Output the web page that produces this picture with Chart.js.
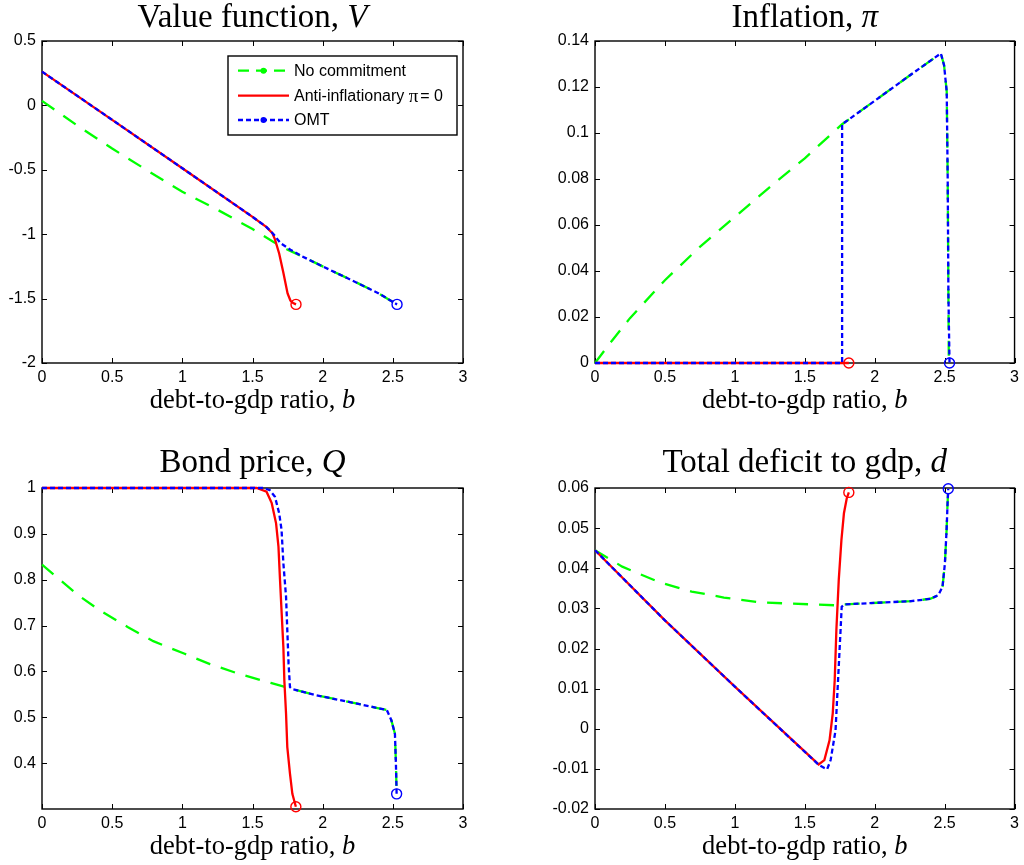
<!DOCTYPE html>
<html><head><meta charset="utf-8">
<script src="https://cdn.jsdelivr.net/npm/chart.js@4.4.0/dist/chart.umd.min.js"></script>
<style>
html,body{margin:0;padding:0;background:#fff;width:1024px;height:865px;overflow:hidden}
canvas{position:absolute}
</style></head><body>
<canvas id="cV" width="512" height="430" style="left:0;top:0"></canvas>
<canvas id="cPi" width="512" height="430" style="left:512px;top:0"></canvas>
<canvas id="cQ" width="512" height="435" style="left:0;top:430px"></canvas>
<canvas id="cD" width="512" height="435" style="left:512px;top:430px"></canvas>
<script>
// ---------- tick labels ----------
const xTicks = [0, 0.5, 1, 1.5, 2, 2.5, 3];
const vTicks = [-2, -1.5, -1, -0.5, 0, 0.5];
const piTicks = [0, 0.02, 0.04, 0.06, 0.08, 0.1, 0.12, 0.14];
const qTicks = [0.4, 0.5, 0.6, 0.7, 0.8, 0.9, 1];
const dTicks = [-0.02, -0.01, 0, 0.01, 0.02, 0.03, 0.04, 0.05, 0.06];
const seriesNames = ['No commitment', 'Anti-inflationary ', 'OMT'];

// ---------- Value function V ----------
const vNcB  = [0, 0.25, 0.5, 0.75, 1.0, 1.25, 1.5, 1.65, 1.75, 1.85, 2.0, 2.25, 2.4, 2.53];
const vNcY  = [0.035, -0.155, -0.335, -0.505, -0.67, -0.81, -0.96, -1.06, -1.12, -1.17, -1.25, -1.38, -1.46, -1.545];
const vAiB  = [0, 0.5, 1.0, 1.5, 1.6, 1.64, 1.66, 1.69, 1.72, 1.75, 1.77, 1.79, 1.81];
const vAiY  = [0.262, -0.112, -0.488, -0.865, -0.945, -0.99, -1.04, -1.15, -1.30, -1.46, -1.515, -1.535, -1.545];
const vOmB  = [0, 0.5, 1.0, 1.5, 1.6, 1.65, 1.7, 1.77, 1.85, 2.0, 2.25, 2.4, 2.53];
const vOmY  = [0.262, -0.112, -0.488, -0.865, -0.945, -1.0, -1.07, -1.12, -1.17, -1.25, -1.38, -1.46, -1.545];

// ---------- Inflation pi ----------
const piNcB = [0, 0.12, 0.25, 0.5, 0.75, 1.0, 1.25, 1.5, 1.767, 2.0, 2.25, 2.473, 2.496, 2.515, 2.522, 2.527, 2.53];
const piNcY = [0, 0.0096, 0.0195, 0.036, 0.0505, 0.0635, 0.0765, 0.089, 0.1038, 0.114, 0.125, 0.1346, 0.1295, 0.118, 0.08, 0.03, 0];
const piAiB = [0, 1.815];
const piAiY = [0, 0];
const piOmB = [0, 1.767, 1.767, 2.0, 2.25, 2.473, 2.496, 2.515, 2.522, 2.527, 2.535];
const piOmY = [0, 0, 0.1038, 0.114, 0.125, 0.1346, 0.1295, 0.118, 0.08, 0.03, 0];

// ---------- Bond price Q ----------
const qNcB = [0, 0.259, 0.413, 0.61, 0.793, 1.012, 1.197, 1.411, 1.63, 1.78, 1.957, 2.195, 2.409, 2.457, 2.49, 2.515, 2.522, 2.527];
const qNcY = [0.833, 0.766, 0.733, 0.697, 0.666, 0.639, 0.616, 0.594, 0.575, 0.562, 0.548, 0.533, 0.519, 0.516, 0.493, 0.464, 0.399, 0.333];
const qAiB = [0, 1.53, 1.60, 1.637, 1.668, 1.685, 1.696, 1.708, 1.72, 1.727, 1.739, 1.748, 1.767, 1.784, 1.809];
const qAiY = [1, 1, 0.992, 0.967, 0.923, 0.872, 0.80, 0.726, 0.653, 0.58, 0.508, 0.435, 0.377, 0.333, 0.305];
const qOmB = [0, 1.58, 1.624, 1.66, 1.69, 1.707, 1.72, 1.739, 1.748, 1.757, 1.767, 1.78, 1.957, 2.195, 2.409, 2.457, 2.49, 2.515, 2.522, 2.527];
const qOmY = [1, 1, 0.995, 0.981, 0.945, 0.909, 0.836, 0.763, 0.69, 0.617, 0.566, 0.562, 0.548, 0.533, 0.519, 0.516, 0.493, 0.464, 0.399, 0.333];

// ---------- Total deficit d ----------
const dNcB = [0, 0.195, 0.461, 0.691, 0.922, 1.178, 1.546, 1.77, 1.784, 2.02, 2.26, 2.40, 2.455, 2.485, 2.502, 2.514, 2.521, 2.526];
const dNcY = [0.0445, 0.0404, 0.0365, 0.0342, 0.0327, 0.0315, 0.031, 0.0307, 0.031, 0.0314, 0.0318, 0.0324, 0.0333, 0.0354, 0.0412, 0.0495, 0.0562, 0.0598];
const dAiB = [0, 0.5, 1.0, 1.599, 1.64, 1.677, 1.70, 1.714, 1.726, 1.743, 1.762, 1.78, 1.80, 1.815];
const dAiY = [0.0445, 0.027, 0.0105, -0.0089, -0.0078, -0.0029, 0.0038, 0.0121, 0.0246, 0.0371, 0.047, 0.0537, 0.0574, 0.0589];
const dOmB = [0, 0.5, 1.0, 1.6, 1.64, 1.66, 1.685, 1.72, 1.732, 1.744, 1.756, 1.764, 1.784, 2.02, 2.26, 2.40, 2.455, 2.485, 2.502, 2.514, 2.521, 2.526];
const dOmY = [0.0445, 0.027, 0.0105, -0.009, -0.0098, -0.0101, -0.0078, -0.0004, 0.008, 0.0163, 0.0246, 0.0304, 0.031, 0.0314, 0.0318, 0.0324, 0.0333, 0.0354, 0.0412, 0.0495, 0.0562, 0.0598];

// ---------- styling ----------
const GREEN = '#00ff00', RED = '#ff0000', BLUE = '#0000ff';
const SERIF = '"Liberation Serif", "Times New Roman", serif';
const SANS = '"Liberation Sans", Arial, sans-serif';
const TICK_FONT = {family: SANS, size: 16};

function pts(b, y) { return b.map((x, i) => ({x: x, y: y[i]})); }
function fmt(v) { return String(Math.round(v * 1e6) / 1e6); }

function datasets(nB, nY, aB, aY, oB, oY) {
  const endRadius = c => (c.dataIndex === c.dataset.data.length - 1 ? 5 : 0);
  return [
    {label: seriesNames[0], data: pts(nB, nY), borderColor: GREEN, borderWidth: 2.3, borderDash: [15, 11],
     pointRadius: 0, order: 3, clip: false},
    {label: seriesNames[1], data: pts(aB, aY), borderColor: RED, borderWidth: 2.3,
     pointRadius: endRadius, pointBorderColor: RED, pointBackgroundColor: 'rgba(0,0,0,0)', pointBorderWidth: 1.4, order: 2, clip: false},
    {label: seriesNames[2], data: pts(oB, oY), borderColor: BLUE, borderWidth: 2.3, borderDash: [5, 3],
     pointRadius: endRadius, pointBorderColor: BLUE, pointBackgroundColor: 'rgba(0,0,0,0)', pointBorderWidth: 1.4, order: 1, clip: false}
  ];
}

function drawParts(ctx, parts, cx, baseline) {
  let total = 0;
  parts.forEach(p => { ctx.font = p.f; total += ctx.measureText(p.t).width; });
  let x = cx - total / 2;
  ctx.textBaseline = 'alphabetic';
  ctx.textAlign = 'left';
  ctx.fillStyle = '#000';
  parts.forEach(p => { ctx.font = p.f; ctx.fillText(p.t, x, baseline); x += ctx.measureText(p.t).width; });
}

const decor = {
  id: 'decor',
  beforeDatasetsDraw(chart) {
    const ctx = chart.ctx, a = chart.chartArea;
    ctx.save();
    ctx.strokeStyle = '#000';
    ctx.lineWidth = 1.4;
    ctx.setLineDash([]);
    ctx.strokeRect(a.left, a.top, a.right - a.left, a.bottom - a.top);
    ctx.lineWidth = 1;
    const L = 5;
    const xs = chart.scales.x, ys = chart.scales.y;
    ctx.beginPath();
    xs.ticks.forEach(t => {
      const p = Math.round(xs.getPixelForValue(t.value)) + 0.5;
      ctx.moveTo(p, a.bottom); ctx.lineTo(p, a.bottom - L);
      ctx.moveTo(p, a.top); ctx.lineTo(p, a.top + L);
    });
    ys.ticks.forEach(t => {
      const p = Math.round(ys.getPixelForValue(t.value)) + 0.5;
      ctx.moveTo(a.left, p); ctx.lineTo(a.left + L, p);
      ctx.moveTo(a.right, p); ctx.lineTo(a.right - L, p);
    });
    ctx.stroke();
    ctx.restore();
  },
  afterDraw(chart) {
    const o = chart.options.plugins.decor;
    const ctx = chart.ctx, a = chart.chartArea;
    const cx = (a.left + a.right) / 2;
    ctx.save();
    drawParts(ctx, o.title, cx, a.top + o.titleOffset);
    drawParts(ctx, [
      {t: 'debt-to-gdp ratio, ', f: '26.5px ' + SERIF},
      {t: 'b', f: 'italic 26.5px ' + SERIF}
    ], cx, a.bottom + 44.5);
    if (o.legend) {
      const w = 229, h = 79;
      const bx = a.right - 6 - w, by = a.top + 15;
      ctx.fillStyle = '#fff';
      ctx.fillRect(bx, by, w, h);
      ctx.strokeStyle = '#000';
      ctx.lineWidth = 1.4;
      ctx.strokeRect(bx, by, w, h);
      const rows = [14.7, 39.7, 64];
      chart.data.datasets.forEach((ds, i) => {
        const y = by + rows[i];
        ctx.strokeStyle = ds.borderColor;
        ctx.lineWidth = 2.3;
        ctx.setLineDash(i === 0 ? [11, 7] : (i === 2 ? [5, 3] : []));
        ctx.beginPath();
        ctx.moveTo(bx + 10, y); ctx.lineTo(bx + 61, y);
        ctx.stroke();
        ctx.setLineDash([]);
        if (i !== 1) {
          ctx.fillStyle = ds.borderColor;
          ctx.beginPath(); ctx.arc(bx + 35.5, y, 3, 0, Math.PI * 2); ctx.fill();
        }
        ctx.fillStyle = '#000';
        ctx.textBaseline = 'middle';
        ctx.textAlign = 'left';
        ctx.font = '16px ' + SANS;
        let tx = bx + 66;
        ctx.fillText(ds.label, tx, y + 1);
        if (i === 1) {
          tx += ctx.measureText(ds.label).width;
          ctx.font = '19px ' + SERIF;
          ctx.fillText('\u03c0', tx, y + 1);
          tx += ctx.measureText('\u03c0').width + 2;
          ctx.font = '16px ' + SANS;
          ctx.fillText('= 0', tx, y + 1);
        }
      });
    }
    ctx.restore();
  }
};

function makeChart(id, ds, yMin, yMax, yTickArr, yWidth, pad, decorOpts) {
  return new Chart(document.getElementById(id), {
    type: 'scatter',
    data: {datasets: ds},
    options: {
      responsive: false,
      animation: false,
      events: [],
      showLine: true,
      layout: {padding: pad},
      elements: {line: {tension: 0, fill: false}},
      plugins: {legend: {display: false}, tooltip: {enabled: false}, title: {display: false}, decor: decorOpts},
      scales: {
        x: {
          type: 'linear', min: 0, max: 3,
          afterBuildTicks: s => { s.ticks = xTicks.map(v => ({value: v})); },
          afterFit: s => { s.height = 30; },
          grid: {display: false, drawTicks: false}, border: {display: false},
          ticks: {font: TICK_FONT, color: '#000', padding: 5, maxRotation: 0, autoSkip: false, callback: fmt}
        },
        y: {
          type: 'linear', min: yMin, max: yMax,
          afterBuildTicks: s => { s.ticks = yTickArr.map(v => ({value: v})); },
          afterFit: s => { s.width = yWidth; },
          grid: {display: false, drawTicks: false}, border: {display: false},
          ticks: {font: TICK_FONT, color: '#000', padding: 6, autoSkip: false, callback: fmt}
        }
      }
    },
    plugins: [decor]
  });
}

const titleFont = '33px ' + SERIF, titleItal = 'italic 33px ' + SERIF;

makeChart('cV', datasets(vNcB, vNcY, vAiB, vAiY, vOmB, vOmY), -2, 0.5, vTicks, 42,
  {left: 0, top: 41, right: 49, bottom: 37},
  {title: [{t: 'Value function, ', f: titleFont}, {t: 'V', f: titleItal}], titleOffset: -14, legend: true});

makeChart('cPi', datasets(piNcB, piNcY, piAiB, piAiY, piOmB, piOmY), 0, 0.14, piTicks, 83,
  {left: 0, top: 41, right: 8, bottom: 37},
  {title: [{t: 'Inflation, ', f: titleFont}, {t: '\u03c0', f: titleItal}], titleOffset: -14, legend: false});

makeChart('cQ', datasets(qNcB, qNcY, qAiB, qAiY, qOmB, qOmY), 0.3, 1, qTicks, 42,
  {left: 0, top: 58, right: 49, bottom: 26},
  {title: [{t: 'Bond price, ', f: titleFont}, {t: 'Q', f: titleItal}], titleOffset: -16, legend: false});

makeChart('cD', datasets(dNcB, dNcY, dAiB, dAiY, dOmB, dOmY), -0.02, 0.06, dTicks, 83,
  {left: 0, top: 58, right: 8, bottom: 26},
  {title: [{t: 'Total deficit to gdp, ', f: titleFont}, {t: 'd', f: titleItal}], titleOffset: -16, legend: false});
</script>
</body></html>
